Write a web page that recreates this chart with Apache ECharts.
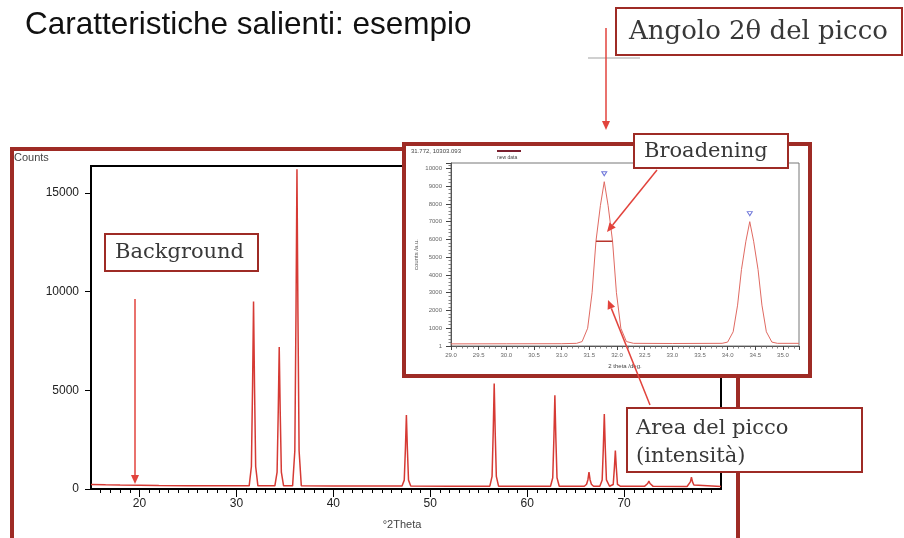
<!DOCTYPE html>
<html>
<head>
<meta charset="utf-8">
<script src="https://cdn.jsdelivr.net/npm/echarts@6/dist/echarts.min.js"></script>
<style>
  html, body { margin: 0; padding: 0; background: #fff; }
  #chart { width: 904px; height: 538px; }
</style>
</head>
<body>
<div id="chart"></div>
<script>
// ---- Data -------------------------------------------------------------
const slideTitle = 'Caratteristiche salienti: esempio';

// Full diffraction pattern (°2Theta, counts)
const mainTheta = [
  15.0, 16.5, 18.0, 20.0, 22.0, 25.0, 28.0, 30.0,
  31.32, 31.55, 31.67, 31.77, 31.87, 31.99, 32.22,
  33.0,
  33.97, 34.2, 34.32, 34.42, 34.52, 34.64, 34.87,
  35.8, 36.03, 36.15, 36.25, 36.35, 36.47, 36.7,
  40.0, 44.0,
  47.09, 47.32, 47.44, 47.54, 47.64, 47.76, 47.99,
  52.0,
  56.15, 56.38, 56.5, 56.6, 56.7, 56.82, 57.05,
  60.0,
  62.41, 62.64, 62.76, 62.86, 62.96, 63.08, 63.31,
  65.9, 66.13, 66.27, 66.38, 66.49, 66.63, 66.85,
  67.5, 67.74, 67.86, 67.96, 68.06, 68.18, 68.5,
  68.65, 68.88, 69.0, 69.1, 69.2, 69.32, 69.6,
  72.1, 72.3, 72.44, 72.56, 72.68, 72.82, 73.0,
  76.5, 76.7, 76.84, 76.95, 77.06, 77.2, 77.4,
  80.0
];
const mainCounts = [
  230, 210, 200, 190, 180, 170, 165, 160,
  160, 1140, 5230, 9500, 5230, 1140, 160,
  160,
  160, 860, 3960, 7200, 3960, 860, 160,
  160, 1940, 8910, 16200, 8910, 1940, 160,
  155, 150,
  150, 450, 2060, 3750, 2060, 450, 150,
  145,
  145, 640, 2940, 5350, 2940, 640, 145,
  140,
  140, 570, 2610, 4750, 2610, 570, 140,
  140, 240, 470, 850, 470, 240, 140,
  140, 460, 2090, 3800, 2090, 460, 140,
  140, 230, 1070, 1950, 1070, 230, 140,
  135, 180, 280, 400, 280, 180, 135,
  130, 200, 360, 600, 360, 200, 130,
  125
];
const mainXTicks = [20, 30, 40, 50, 60, 70];
const mainYTicks = [0, 5000, 10000, 15000];

// Zoomed region around the two strongest low-angle peaks
const insetTheta = [
  29.0, 30.0, 31.0, 31.27, 31.37, 31.47, 31.55, 31.62, 31.70, 31.77,
  31.84, 31.92, 31.99, 32.07, 32.17, 32.3, 33.0, 33.9, 34.0, 34.1,
  34.18, 34.25, 34.33, 34.40, 34.47, 34.55, 34.62, 34.7, 34.8, 34.9, 35.29
];
const insetCounts = [
  120, 125, 130, 150, 250, 1000, 3000, 5900, 7900, 9250,
  7900, 5900, 3000, 1000, 250, 150, 140, 150, 220, 800,
  2300, 4300, 5900, 7000, 5900, 4300, 2300, 800, 220, 150, 150
];
const insetPeakTheta = [31.77, 34.40];
const insetPeakCounts = [9250, 7000];
const fwhmTheta = [31.62, 31.92];
const fwhmCounts = [5900, 5900];

// ---- Helpers ----------------------------------------------------------
const zip = (xs, ys) => xs.map((x, i) => [x, ys[i]]);
const FRAME = '#9e2b25';
const ARROW = '#e2433c';
const SERIF = '"DejaVu Serif", "Liberation Serif", serif';

function box(x, y, w, h) {
  return { type: 'rect', z: 100, shape: { x, y, width: w, height: h },
    style: { fill: '#fff', stroke: FRAME, lineWidth: 2 } };
}
function serifText(text, x, y, size) {
  return { type: 'text', z: 101, style: { text, x, y, fill: '#383838',
    font: size + 'px ' + SERIF, textAlign: 'left', align: 'left',
    textVerticalAlign: 'middle', verticalAlign: 'middle' } };
}
function smallText(text, x, y, size, align) {
  return { type: 'text', z: 40, style: { text, x, y, fill: '#444',
    font: size + 'px "Liberation Sans", Arial, sans-serif',
    textAlign: align || 'left', align: align || 'left',
    textVerticalAlign: 'middle', verticalAlign: 'middle' } };
}
function arrow(x1, y1, x2, y2) {
  const len = Math.hypot(x2 - x1, y2 - y1);
  const dx = (x2 - x1) / len, dy = (y2 - y1) / len;
  const hl = 9, hw = 4;
  const bx = x2 - dx * hl, by = y2 - dy * hl;
  return [
    { type: 'line', z: 102, shape: { x1, y1, x2: bx, y2: by },
      style: { stroke: ARROW, lineWidth: 1.5 } },
    { type: 'polygon', z: 102,
      shape: { points: [[x2, y2], [bx - dy * hw, by + dx * hw], [bx + dy * hw, by - dx * hw]] },
      style: { fill: ARROW } }
  ];
}

// ---- Chart ------------------------------------------------------------
const chart = echarts.init(document.getElementById('chart'), null, { renderer: 'canvas' });
const sans = '"Liberation Sans", Arial, sans-serif';

const option = {
  animation: false,
  backgroundColor: '#fff',
  grid: [
    { left: 91, top: 166, right: 183, bottom: 49, show: true, z: 0,
      borderColor: '#000', borderWidth: 2, backgroundColor: 'transparent',
      outerBoundsMode: 'none' },
    { left: 451, top: 163, right: 105, bottom: 192, show: true, z: 31,
      borderColor: '#777', borderWidth: 1, backgroundColor: 'transparent',
      outerBoundsMode: 'none' }
  ],
  xAxis: [
    { type: 'value', gridIndex: 0, min: 15, max: 80,
      axisLine: { show: true, onZero: false, lineStyle: { color: '#000', width: 2 } },
      axisTick: { show: true, length: 8, customValues: mainXTicks, lineStyle: { color: '#000', width: 1 } },
      minorTick: { show: true, splitNumber: 10, length: 4, lineStyle: { color: '#000', width: 1 } },
      axisLabel: { show: true, customValues: mainXTicks, margin: 9, color: '#222',
        fontSize: 12, fontFamily: sans, formatter: v => String(v) },
      splitLine: { show: false }, minorSplitLine: { show: false } },
    { type: 'value', gridIndex: 1, min: 29, max: 35.29, interval: 0.5, z: 32,
      name: '2 theta /deg.', nameLocation: 'middle', nameGap: 17,
      nameTextStyle: { fontSize: 6, color: '#444', fontFamily: sans },
      axisLine: { show: true, onZero: false, lineStyle: { color: '#555', width: 1 } },
      axisTick: { show: true, length: 4, lineStyle: { color: '#444', width: 1 } },
      minorTick: { show: true, splitNumber: 5, length: 2.5, lineStyle: { color: '#666', width: 0.8 } },
      axisLabel: { show: true, margin: 6, color: '#666', fontSize: 6, fontFamily: sans,
        showMaxLabel: false, formatter: v => v.toFixed(1) },
      splitLine: { show: false }, minorSplitLine: { show: false } }
  ],
  yAxis: [
    { type: 'value', gridIndex: 0, min: 0, max: 16370,
      axisLine: { show: true, onZero: false, lineStyle: { color: '#000', width: 2 } },
      axisTick: { show: true, length: 6, customValues: mainYTicks, lineStyle: { color: '#000', width: 1 } },
      axisLabel: { show: true, customValues: mainYTicks, margin: 12, color: '#222',
        fontSize: 12, fontFamily: sans, formatter: v => String(v) },
      splitLine: { show: false } },
    { type: 'value', gridIndex: 1, min: 0, max: 10303, interval: 1000, z: 32,
      name: 'counts /a.u.', nameLocation: 'middle', nameGap: 32, nameRotate: 90,
      nameTextStyle: { fontSize: 6, color: '#555', fontFamily: sans },
      axisLine: { show: true, onZero: false, lineStyle: { color: '#555', width: 1 } },
      axisTick: { show: true, length: 5, lineStyle: { color: '#444', width: 1 } },
      minorTick: { show: true, splitNumber: 5, length: 2.5, lineStyle: { color: '#666', width: 0.8 } },
      axisLabel: { show: true, margin: 9, color: '#666', fontSize: 6, fontFamily: sans,
        showMaxLabel: false, formatter: v => (v === 0 ? '1' : String(v)) },
      splitLine: { show: false }, minorSplitLine: { show: false } }
  ],
  series: [
    { name: 'pattern', type: 'line', xAxisIndex: 0, yAxisIndex: 0, z: 2,
      data: zip(mainTheta, mainCounts), symbol: 'none', silent: true,
      lineStyle: { color: '#d63a34', width: 1.5 } },
    { name: 'new data', type: 'line', xAxisIndex: 1, yAxisIndex: 1, z: 33,
      data: zip(insetTheta, insetCounts), symbol: 'none', silent: true,
      lineStyle: { color: '#e06a62', width: 1 } },
    { name: 'fwhm', type: 'line', xAxisIndex: 1, yAxisIndex: 1, z: 34,
      data: zip(fwhmTheta, fwhmCounts), symbol: 'none', silent: true,
      lineStyle: { color: '#b8342c', width: 1.5 } },
    { name: 'peaks', type: 'scatter', xAxisIndex: 1, yAxisIndex: 1, z: 34,
      data: zip(insetPeakTheta, insetPeakCounts), symbol: 'triangle', symbolRotate: 180,
      symbolSize: [5, 4], symbolOffset: [0, -8], silent: true,
      itemStyle: { color: 'transparent', borderColor: '#4b55d0', borderWidth: 1 } }
  ],
  graphic: { elements: [
    // slide title
    { type: 'text', z: 50, style: { text: slideTitle, x: 25, y: 25, fill: '#111',
      font: '31.5px "Liberation Sans", Arial, sans-serif', textAlign: 'left', align: 'left',
      textVerticalAlign: 'middle', verticalAlign: 'middle' } },
    // outer frame of the full pattern
    { type: 'polyline', z: 1, shape: { points: [[12, 545], [12, 149], [738, 149], [738, 545]] },
      style: { stroke: FRAME, lineWidth: 4, fill: null } },
    // panel holding the zoomed view
    { type: 'rect', z: 30, shape: { x: 404, y: 144, width: 406, height: 232 },
      style: { fill: '#fff', stroke: FRAME, lineWidth: 4 } },
    smallText('Counts', 14, 158, 11),
    smallText('°2Theta', 402, 525, 11, 'center'),
    smallText('31.772, 10303.093', 411, 151, 6),
    { type: 'line', z: 40, shape: { x1: 497, y1: 151, x2: 521, y2: 151 },
      style: { stroke: '#7b1f2e', lineWidth: 2 } },
    smallText('new data', 497, 158, 5),
    // thin rule beside the angle callout
    { type: 'line', z: 5, shape: { x1: 588, y1: 58, x2: 640, y2: 58 },
      style: { stroke: '#d0d0d0', lineWidth: 2 } },
    // callouts
    box(616, 8, 286, 47), serifText('Angolo 2θ del picco', 629, 32, 26),
    box(105, 234, 153, 37), serifText('Background', 115, 253, 21),
    box(634, 134, 154, 34), serifText('Broadening', 644, 152, 21),
    box(627, 408, 235, 64), serifText('Area del picco', 636, 429, 21),
    serifText('(intensità)', 636, 457, 21),
    ...arrow(606, 28, 606, 130),
    ...arrow(135, 299, 135, 484),
    ...arrow(657, 170, 607, 232),
    ...arrow(650, 405, 608, 300)
  ] }
};
chart.setOption(option);
</script>
</body>
</html>
